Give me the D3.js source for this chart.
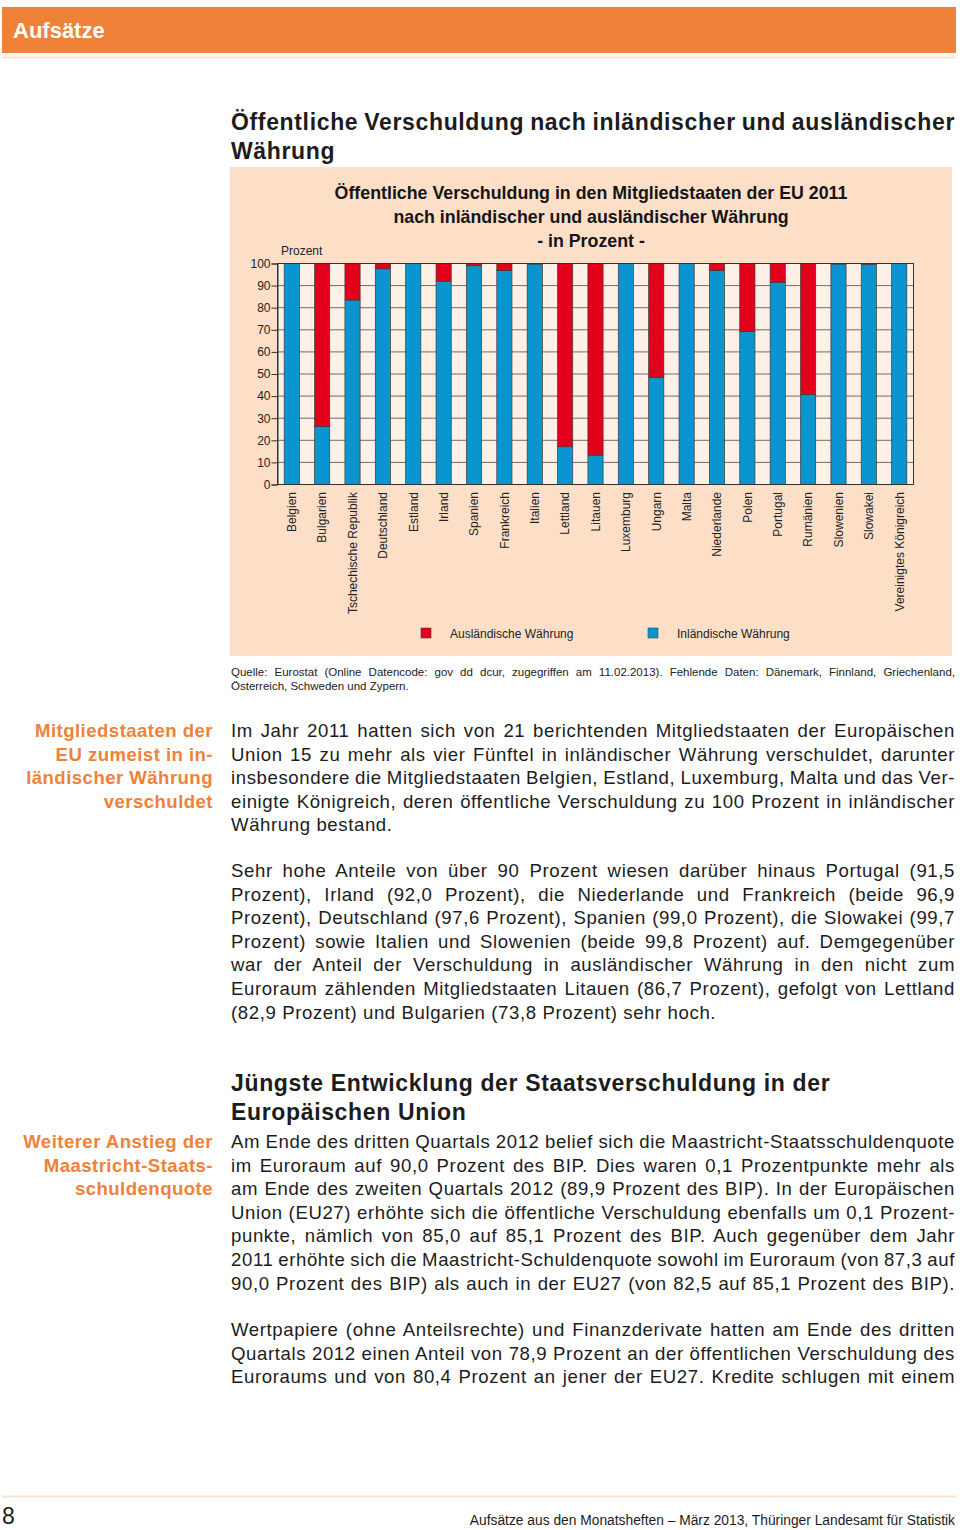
<!DOCTYPE html>
<html>
<head>
<meta charset="UTF-8">
<title>Öffentliche Verschuldung nach Währung</title>
<script src="https://cdn.jsdelivr.net/npm/d3@7"></script>
<style>
    body { margin: 0; background: #fff; }
    svg { display: block; font-family: "Liberation Sans", Arial, sans-serif; }
</style>
</head>
<body>
<svg id="page" width="960" height="1530"></svg>
<script>

    // Chart data
    var countries = ["Belgien", "Bulgarien", "Tschechische Republik", "Deutschland", "Estland", "Irland",
        "Spanien", "Frankreich", "Italien", "Lettland", "Litauen", "Luxemburg", "Ungarn", "Malta",
        "Niederlande", "Polen", "Portugal", "Rumänien", "Slowenien", "Slowakei", "Vereinigtes Königreich"];
    var inland = [100, 26.2, 83.5, 97.6, 100, 92.0, 99.0, 96.9, 99.8, 17.1, 13.3, 100, 48.5, 100,
        96.9, 69.3, 91.5, 40.7, 99.8, 99.7, 100];
    var ausland = [0, 73.8, 16.5, 2.4, 0, 8.0, 1.0, 3.1, 0.2, 82.9, 86.7, 0, 51.5, 0,
        3.1, 30.7, 8.5, 59.3, 0.2, 0.3, 0];
    var yTicks = [0, 10, 20, 30, 40, 50, 60, 70, 80, 90, 100];
    var legendLabels = ["Ausländische Währung", "Inländische Währung"];

    var RED = "#e2001a", BLUE = "#0a95d1", ORANGE = "#ef8139", TEXT = "#1c1c1c";

    var svg = d3.select("#page");

    // Page header
    svg.append("rect").attr("x", 2).attr("y", 7).attr("width", 954).attr("height", 46).attr("fill", ORANGE);
    svg.append("text").attr("x", 13).attr("y", 38).attr("fill", "#fff")
        .attr("font-size", 22).attr("font-weight", "bold").text("Aufsätze");
    svg.append("line").attr("x1", 2).attr("x2", 956).attr("y1", 57.5).attr("y2", 57.5)
        .attr("stroke", "#f6e3d4").attr("stroke-width", 2);

    // justified line helper: spreads the leftover room over the word gaps
    function textLine(g, x, y, width, str, justify, attrs) {
        var t = g.append("text").attr("x", x).attr("y", y).text(str);
        for (var k in attrs) t.attr(k, attrs[k]);
        if (justify) {
            var w = t.node().getComputedTextLength();
            var gaps = (str.match(/ /g) || []).length;
            if (gaps) t.attr("word-spacing", (width - w) / gaps);
        }
        return t;
    }

    // mode: "none" = never justify, "block" = all but last line, "all" = every line
    function paragraph(lines, x, y0, lh, width, attrs, mode) {
        lines.forEach(function (s, i) {
            var j = mode === "all" || (mode === "block" && i < lines.length - 1);
            textLine(svg, x, y0 + i * lh, width, s, j, attrs);
        });
    }

    var bodyAttrs = {"font-size": 18.6, "fill": TEXT, "letter-spacing": 0.6};
    var headAttrs = {"font-size": 23, "font-weight": "bold", "fill": TEXT, "letter-spacing": 0.65};
    var sideAttrs = {"font-size": 18.6, "font-weight": "bold", "fill": ORANGE, "text-anchor": "end", "letter-spacing": 0.45};

    // Section title above the chart
    paragraph(["Öffentliche Verschuldung nach inländischer und ausländischer", "Währung"],
        231, 130, 28.5, 724, headAttrs, "block");

    // Chart panel
    svg.append("rect").attr("x", 230).attr("y", 167).attr("width", 722).attr("height", 489).attr("fill", "#fddfc8");

    var chartTitle = ["Öffentliche Verschuldung in den Mitgliedstaaten der EU 2011",
        "nach inländischer und ausländischer Währung", "- in Prozent -"];
    chartTitle.forEach(function (s, i) {
        svg.append("text").attr("x", 591).attr("y", 199 + i * 24).attr("text-anchor", "middle")
            .attr("font-size", 17.8).attr("font-weight", "bold").attr("fill", "#151515").text(s);
    });

    var plotLeft = 277.5, plotRight = 913.5, plotTop = 263.5, plotBottom = 484.5;

    var x = d3.scaleBand().domain(countries).range([plotLeft, plotRight]).paddingInner(0.5).paddingOuter(0.22);
    var y = d3.scaleLinear().domain([0, 100]).range([plotBottom, plotTop]);

    var plot = svg.append("g");
    plot.append("rect").attr("x", plotLeft).attr("y", plotTop)
        .attr("width", plotRight - plotLeft).attr("height", plotBottom - plotTop)
        .attr("fill", "#fdf1e7");

    plot.selectAll("line.grid").data(yTicks).join("line").attr("class", "grid")
        .attr("x1", plotLeft).attr("x2", plotRight)
        .attr("y1", function (d) { return y(d); }).attr("y2", function (d) { return y(d); })
        .attr("stroke", "#4a4a4a").attr("stroke-width", 0.8);

    var rows = countries.map(function (c, i) { return {country: c, inland: inland[i], ausland: ausland[i]}; });
    var stack = d3.stack().keys(["inland", "ausland"])(rows);
    var colors = {inland: BLUE, ausland: RED};

    plot.selectAll("g.series").data(stack).join("g").attr("class", "series")
        .attr("fill", function (s) { return colors[s.key]; })
        .selectAll("rect").data(function (s) { return s; }).join("rect")
        .attr("x", function (d) { return x(d.data.country); })
        .attr("width", x.bandwidth())
        .attr("y", function (d) { return y(Math.min(d[1], 100)); })
        .attr("height", function (d) { return Math.max(0, y(d[0]) - y(Math.min(d[1], 100))); })
        .attr("stroke", "#3a3a3a").attr("stroke-width", 0.7);

    plot.append("rect").attr("x", plotLeft).attr("y", plotTop)
        .attr("width", plotRight - plotLeft).attr("height", plotBottom - plotTop)
        .attr("fill", "none").attr("stroke", "#333").attr("stroke-width", 1);

    var yAxis = plot.append("g").attr("transform", "translate(" + plotLeft + ",0)")
        .call(d3.axisLeft(y).tickValues(yTicks).tickSize(6).tickPadding(1));
    yAxis.select(".domain").attr("stroke", "#333");
    yAxis.selectAll(".tick line").attr("stroke", "#333");
    yAxis.selectAll(".tick text").attr("font-size", 12).attr("fill", "#222")
        .attr("font-family", "Liberation Sans, Arial, sans-serif");

    svg.append("text").attr("x", 281).attr("y", 255).attr("font-size", 12).attr("fill", "#222").text("Prozent");

    // Rotated country labels
    plot.selectAll("text.cat").data(countries).join("text").attr("class", "cat")
        .attr("transform", function (d) { return "translate(" + (x(d) + x.bandwidth() / 2) + ",492) rotate(-90)"; })
        .attr("text-anchor", "end").attr("dy", "0.36em")
        .attr("font-size", 12).attr("fill", "#222").text(function (d) { return d; });

    // Legend
    var legend = svg.selectAll("g.leg").data(legendLabels).join("g").attr("class", "leg")
        .attr("transform", function (d, i) { return "translate(" + (421 + i * 227) + ",628)"; });
    legend.append("rect").attr("width", 10).attr("height", 10)
        .attr("fill", function (d, i) { return i === 0 ? RED : BLUE; })
        .attr("stroke", "#444").attr("stroke-width", 0.6);
    legend.append("text").attr("x", 29).attr("y", 9.5).attr("font-size", 12).attr("fill", "#222")
        .text(function (d) { return d; });

    // Source note
    paragraph(["Quelle: Eurostat (Online Datencode: gov dd dcur, zugegriffen am 11.02.2013). Fehlende Daten: Dänemark, Finnland, Griechenland,",
        "Österreich, Schweden und Zypern."], 231, 676, 14, 724, {"font-size": 11.5, "fill": "#222"}, "block");

    // Body text
    paragraph(["Mitgliedstaaten der", "EU zumeist in in-", "ländischer Währung", "verschuldet"],
        213, 737, 23.6, 0, sideAttrs, "none");

    paragraph(["Im Jahr 2011 hatten sich von 21 berichtenden Mitgliedstaaten der Europäischen",
        "Union 15 zu mehr als vier Fünftel in inländischer Währung verschuldet, darunter",
        "insbesondere die Mitgliedstaaten Belgien, Estland, Luxemburg, Malta und das Ver-",
        "einigte Königreich, deren öffentliche Verschuldung zu 100 Prozent in inländischer",
        "Währung bestand."], 231, 737, 23.6, 724, bodyAttrs, "block");

    paragraph(["Sehr hohe Anteile von über 90 Prozent wiesen darüber hinaus Portugal (91,5",
        "Prozent), Irland (92,0 Prozent), die Niederlande und Frankreich (beide 96,9",
        "Prozent), Deutschland (97,6 Prozent), Spanien (99,0 Prozent), die Slowakei (99,7",
        "Prozent) sowie Italien und Slowenien (beide 99,8 Prozent) auf. Demgegenüber",
        "war der Anteil der Verschuldung in ausländischer Währung in den nicht zum",
        "Euroraum zählenden Mitgliedstaaten Litauen (86,7 Prozent), gefolgt von Lettland",
        "(82,9 Prozent) und Bulgarien (73,8 Prozent) sehr hoch."], 231, 877, 23.6, 724, bodyAttrs, "block");

    paragraph(["Jüngste Entwicklung der Staatsverschuldung in der", "Europäischen Union"],
        231, 1091, 28.5, 724, headAttrs, "none");

    paragraph(["Weiterer Anstieg der", "Maastricht-Staats-", "schuldenquote"],
        213, 1148, 23.6, 0, sideAttrs, "none");

    paragraph(["Am Ende des dritten Quartals 2012 belief sich die Maastricht-Staatsschuldenquote",
        "im Euroraum auf 90,0 Prozent des BIP. Dies waren 0,1 Prozentpunkte mehr als",
        "am Ende des zweiten Quartals 2012 (89,9 Prozent des BIP). In der Europäischen",
        "Union (EU27) erhöhte sich die öffentliche Verschuldung ebenfalls um 0,1 Prozent-",
        "punkte, nämlich von 85,0 auf 85,1 Prozent des BIP. Auch gegenüber dem Jahr",
        "2011 erhöhte sich die Maastricht-Schuldenquote sowohl im Euroraum (von 87,3 auf",
        "90,0 Prozent des BIP) als auch in der EU27 (von 82,5 auf 85,1 Prozent des BIP)."],
        231, 1148, 23.6, 724, bodyAttrs, "all");

    paragraph(["Wertpapiere (ohne Anteilsrechte) und Finanzderivate hatten am Ende des dritten",
        "Quartals 2012 einen Anteil von 78,9 Prozent an der öffentlichen Verschuldung des",
        "Euroraums und von 80,4 Prozent an jener der EU27. Kredite schlugen mit einem"],
        231, 1336, 23.6, 724, bodyAttrs, "all");

    // Footer
    svg.append("line").attr("x1", 2).attr("x2", 956).attr("y1", 1496.5).attr("y2", 1496.5)
        .attr("stroke", "#f6e3d4").attr("stroke-width", 2);
    svg.append("text").attr("x", 2).attr("y", 1524).attr("font-size", 23).attr("fill", TEXT).text("8");
    svg.append("text").attr("x", 955).attr("y", 1525).attr("text-anchor", "end").attr("font-size", 13.8)
        .attr("fill", TEXT).text("Aufsätze aus den Monatsheften – März 2013, Thüringer Landesamt für Statistik");

</script>
</body>
</html>
